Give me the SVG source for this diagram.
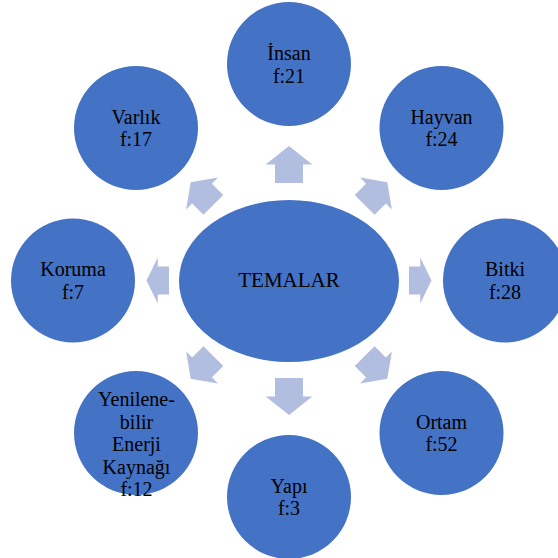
<svg xmlns="http://www.w3.org/2000/svg" xmlns:xlink="http://www.w3.org/1999/xlink" width="558" height="558" viewBox="0 0 558 558">
  <style>
    .node { fill: #4472C4; }
    .lbl { font-family: "Liberation Serif", "Times New Roman", serif; font-size: 20px; fill: #000000; text-anchor: middle; }
    .arrow { fill: #B1BEDF; }
  </style>
  <defs>
    <polygon id="arrV" class="arrow" points="97.5,-14 116,-14 116,-23.3 134.5,0 116,23.3 116,14 97.5,14"/>
    <polygon id="arrH" class="arrow" points="120,-14 131.25,-14 131.25,-23 142.5,0 131.25,23 131.25,14 120,14"/>
    <polygon id="arrD" class="arrow" points="107,-14 123,-14 123,-22.5 139,0 123,22.5 123,14 107,14"/>
  </defs>
  <rect width="558" height="558" fill="#ffffff"/>
  <g id="connectors" transform="translate(289,280.5)">
    <use xlink:href="#arrV" transform="rotate(-90)"/>
    <use xlink:href="#arrD" transform="rotate(-45)"/>
    <use xlink:href="#arrH" transform="rotate(0)"/>
    <use xlink:href="#arrD" transform="rotate(45)"/>
    <use xlink:href="#arrV" transform="rotate(90)"/>
    <use xlink:href="#arrD" transform="rotate(135)"/>
    <use xlink:href="#arrH" transform="rotate(180)"/>
    <use xlink:href="#arrD" transform="rotate(225)"/>
  </g>
  <g id="temalar">
    <ellipse class="node" cx="289" cy="281" rx="110" ry="81"/>
    <text class="lbl" x="289" y="287" style="font-size:21px">TEMALAR</text>
  </g>
  <g id="insan">
    <circle class="node" cx="289" cy="64" r="62"/>
    <text class="lbl" x="289" y="60">İnsan</text>
    <text class="lbl" x="289" y="82.5">f:21</text>
  </g>
  <g id="hayvan">
    <circle class="node" cx="441.5" cy="128" r="62"/>
    <text class="lbl" x="441.5" y="123.5">Hayvan</text>
    <text class="lbl" x="441.5" y="146">f:24</text>
  </g>
  <g id="bitki">
    <circle class="node" cx="505" cy="280.5" r="62"/>
    <text class="lbl" x="505" y="276">Bitki</text>
    <text class="lbl" x="505" y="298.5">f:28</text>
  </g>
  <g id="ortam">
    <circle class="node" cx="441.5" cy="433" r="62"/>
    <text class="lbl" x="441.5" y="428.5">Ortam</text>
    <text class="lbl" x="441.5" y="451">f:52</text>
  </g>
  <g id="yapi">
    <circle class="node" cx="289" cy="497" r="62"/>
    <text class="lbl" x="289" y="492.5">Yapı</text>
    <text class="lbl" x="289" y="515">f:3</text>
  </g>
  <g id="yenilenebilir">
    <circle class="node" cx="136" cy="433" r="62"/>
    <text class="lbl" x="136.5" y="406">Yenilene-</text>
    <text class="lbl" x="136.5" y="428.5">bilir</text>
    <text class="lbl" x="136.5" y="451">Enerji</text>
    <text class="lbl" x="136.5" y="473.5">Kaynağı</text>
    <text class="lbl" x="136.5" y="496">f:12</text>
  </g>
  <g id="koruma">
    <circle class="node" cx="73" cy="280.5" r="62"/>
    <text class="lbl" x="73" y="276">Koruma</text>
    <text class="lbl" x="73" y="298.5">f:7</text>
  </g>
  <g id="varlik">
    <circle class="node" cx="136" cy="128" r="62"/>
    <text class="lbl" x="136" y="123.5">Varlık</text>
    <text class="lbl" x="136" y="146">f:17</text>
  </g>
</svg>
